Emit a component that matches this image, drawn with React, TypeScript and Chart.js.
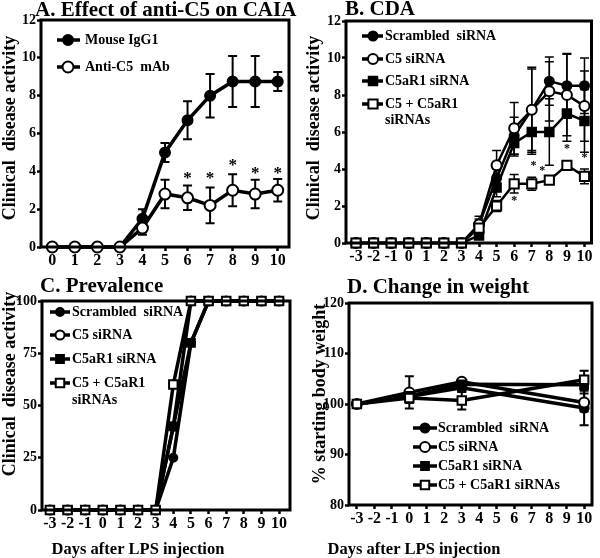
import React, { useEffect, useRef } from 'react';
import { Chart, registerables } from 'chart.js';
Chart.register(...registerables);

const SERIF = "'Liberation Serif', 'Times New Roman', Times, serif";

// ---------- Panel A ----------
const daysA = [0, 1, 2, 3, 4, 5, 6, 7, 8, 9, 10];
const ticksXA = [0, 1, 2, 3, 4, 5, 6, 7, 8, 9, 10];
const ticksYA = [0, 2, 4, 6, 8, 10, 12];
const mouseIgG1 = [0, 0, 0, 0, 1.5, 5.0, 6.7, 8.0, 8.75, 8.75, 8.75];
const mouseIgG1Err = [0, 0, 0, 0, 0.5, 0.5, 1.0, 1.15, 1.35, 1.35, 0.5];
const antiC5mAb = [0, 0, 0, 0, 1.0, 2.8, 2.6, 2.2, 3.0, 2.8, 3.0];
const antiC5mAbErr = [0, 0, 0, 0, 0.35, 0.75, 0.65, 0.95, 0.85, 0.75, 0.6];
const starXA = [6, 7, 8, 9, 10];
const starYA = [3.85, 3.85, 4.5, 4.1, 4.1];

// ---------- Panel B ----------
const daysB = [-3, -2, -1, 0, 1, 2, 3, 4, 5, 6, 7, 8, 9, 10];
const ticksXB = [-3, -2, -1, 0, 1, 2, 3, 4, 5, 6, 7, 8, 9, 10];
const ticksYB = [0, 2, 4, 6, 8, 10, 12];
const scrambledB = [0, 0, 0, 0, 0, 0, 0, 1.0, 3.5, 5.8, 7.2, 8.75, 8.5, 8.5];
const scrambledBErr = [0, 0, 0, 0, 0, 0, 0, 0.45, 0.5, 1.0, 2.2, 1.3, 1.75, 1.5];
const c5B = [0, 0, 0, 0, 0, 0, 0, 1.0, 4.2, 6.2, 7.2, 8.2, 8.0, 7.4];
const c5BErr = [0, 0, 0, 0, 0, 0, 0, 0.3, 0.8, 1.4, 2.3, 1.6, 2.2, 1.9];
const c5ar1B = [0, 0, 0, 0, 0, 0, 0, 0.4, 3.0, 5.4, 6.0, 6.0, 7.0, 6.6];
const c5ar1BErr = [0, 0, 0, 0, 0, 0, 0, 0.2, 0.5, 0.7, 1.2, 1.8, 1.5, 1.7];
const bothB = [0, 0, 0, 0, 0, 0, 0, 0.8, 2.0, 3.2, 3.2, 3.4, 4.2, 3.6];
const bothBErr = [0, 0, 0, 0, 0, 0, 0, 0.3, 0.3, 0.5, 0.35, 0.2, 0.2, 0.4];
const starXB = [6, 7.1, 7.6, 9, 10];
const starYB = [2.45, 4.3, 4.05, 5.25, 4.75];

// ---------- Panel C ----------
const daysC = [-3, -2, -1, 0, 1, 2, 3, 4, 5, 6, 7, 8, 9, 10];
const ticksXC = [-3, -2, -1, 0, 1, 2, 3, 4, 5, 6, 7, 8, 9, 10];
const ticksYC = [0, 25, 50, 75, 100];
const scrambledC = [0, 0, 0, 0, 0, 0, 0, 25, 80, 100, 100, 100, 100, 100];
const c5C = [0, 0, 0, 0, 0, 0, 0, 40, 100, 100, 100, 100, 100, 100];
const c5ar1C = [0, 0, 0, 0, 0, 0, 0, 40, 80, 100, 100, 100, 100, 100];
const bothC = [0, 0, 0, 0, 0, 0, 0, 60, 100, 100, 100, 100, 100, 100];
const zeroErrC = [0, 0, 0, 0, 0, 0, 0, 0, 0, 0, 0, 0, 0, 0];

// ---------- Panel D ----------
const daysD = [-3, 0, 3, 10];
const ticksXD = [-3, -2, -1, 0, 1, 2, 3, 4, 5, 6, 7, 8, 9, 10];
const ticksYD = [80, 90, 100, 110, 120];
const scrambledD = [100, 101.5, 103.2, 99.2];
const scrambledDErr = [0, 0.8, 0.8, 3.4];
const c5D = [100, 102.3, 104.4, 100.3];
const c5DErr = [0, 3.2, 0.5, 1.8];
const c5ar1D = [100, 101.6, 103.9, 103.8];
const c5ar1DErr = [0, 0.8, 0.6, 0.8];
const bothD = [100, 101.2, 100.7, 104.8];
const bothDErr = [0, 1.0, 1.8, 1.8];

type Mk = { style: 'circle' | 'rect'; fill: string; r: number };
type Series = { label: string[]; data: number[]; err: number[]; mk: Mk };
type Area = { left: number; top: number; right: number; bottom: number };
type PanelCfg = {
  w: number; h: number; area: Area;
  xMin: number; xMax: number; xTicks: number[];
  yMin: number; yMax: number; yTicks: number[];
  xs: number[]; series: Series[];
  lineW: number; errW: number; capHalf: number;
  title: string; titleXY: [number, number];
  yTitle: string; yTitleXY: [number, number];
  xTitle?: string; xTitleXY?: [number, number];
  legend: { x0: number; x1: number; xm: number; xt: number; rows: number[]; gap: number; font: number };
  stars?: { xs: number[]; ys: number[]; size: number };
  xTickFont: number; yTickFont: number;
};

function drawMarker(ctx: CanvasRenderingContext2D, x: number, y: number, m: Mk) {
  ctx.save();
  ctx.beginPath();
  if (m.style === 'circle') ctx.arc(x, y, m.r, 0, Math.PI * 2);
  else {
    const s = m.r * Math.SQRT1_2;
    ctx.rect(x - s, y - s, 2 * s, 2 * s);
  }
  ctx.fillStyle = m.fill;
  ctx.fill();
  ctx.lineWidth = 2;
  ctx.strokeStyle = '#000';
  ctx.stroke();
  ctx.restore();
}

function decor(cfg: PanelCfg) {
  return {
    id: 'decor',
    beforeDatasetsDraw(chart: any) {
      const ctx: CanvasRenderingContext2D = chart.ctx;
      const xs = chart.scales.x, ys = chart.scales.y;
      ctx.save();
      ctx.strokeStyle = '#000';
      ctx.lineWidth = cfg.errW;
      cfg.series.forEach((s) => {
        s.data.forEach((v, j) => {
          const e = s.err[j];
          if (!e) return;
          const px = xs.getPixelForValue(cfg.xs[j]);
          const pTop = ys.getPixelForValue(v + e);
          const pBot = ys.getPixelForValue(v - e);
          ctx.beginPath();
          ctx.moveTo(px, pTop); ctx.lineTo(px, pBot);
          ctx.moveTo(px - cfg.capHalf, pTop); ctx.lineTo(px + cfg.capHalf, pTop);
          ctx.moveTo(px - cfg.capHalf, pBot); ctx.lineTo(px + cfg.capHalf, pBot);
          ctx.stroke();
        });
      });
      ctx.restore();
    },
    afterDraw(chart: any) {
      const ctx: CanvasRenderingContext2D = chart.ctx;
      const a = chart.chartArea;
      const xs = chart.scales.x, ys = chart.scales.y;
      ctx.save();
      ctx.strokeStyle = '#000';
      ctx.lineWidth = 3;
      ctx.strokeRect(a.left, a.top, a.right - a.left, a.bottom - a.top);
      ctx.fillStyle = '#000';
      ctx.font = `bold 21px ${SERIF}`;
      ctx.textAlign = 'left';
      ctx.textBaseline = 'alphabetic';
      ctx.fillText(cfg.title, cfg.titleXY[0], cfg.titleXY[1]);
      ctx.save();
      ctx.translate(cfg.yTitleXY[0], cfg.yTitleXY[1]);
      ctx.rotate(-Math.PI / 2);
      ctx.font = `bold 18px ${SERIF}`;
      ctx.textAlign = 'center';
      ctx.textBaseline = 'middle';
      ctx.fillText(cfg.yTitle, 0, 0);
      ctx.restore();
      if (cfg.xTitle && cfg.xTitleXY) {
        ctx.font = `bold 16.5px ${SERIF}`;
        ctx.textAlign = 'center';
        ctx.textBaseline = 'alphabetic';
        ctx.fillText(cfg.xTitle, cfg.xTitleXY[0], cfg.xTitleXY[1]);
      }
      const L = cfg.legend;
      cfg.series.forEach((s, i) => {
        const y = L.rows[i];
        ctx.beginPath();
        ctx.lineWidth = 3.5;
        ctx.moveTo(L.x0, y); ctx.lineTo(L.x1, y);
        ctx.stroke();
        drawMarker(ctx, L.xm, y, s.mk);
        ctx.fillStyle = '#000';
        ctx.font = `bold ${L.font}px ${SERIF}`;
        ctx.textAlign = 'left';
        ctx.textBaseline = 'middle';
        s.label.forEach((t, k) => ctx.fillText(t, L.xt, y + k * L.gap));
      });
      if (cfg.stars) {
        const st = cfg.stars;
        ctx.font = `bold ${st.size}px ${SERIF}`;
        ctx.textAlign = 'center';
        ctx.textBaseline = 'alphabetic';
        st.xs.forEach((x, i) => {
          ctx.fillText('*', xs.getPixelForValue(x), ys.getPixelForValue(st.ys[i]) + st.size * 0.5);
        });
      }
      ctx.restore();
    },
  };
}

function buildChart(canvas: HTMLCanvasElement, cfg: PanelCfg) {
  const n = cfg.series.length;
  const a = cfg.area;
  const gridOpts = {
    display: true, drawOnChartArea: false, drawTicks: true,
    tickLength: 4, tickWidth: 2.5, tickColor: '#000', color: '#000',
  };
  return new Chart(canvas, {
    type: 'line',
    data: {
      datasets: cfg.series.map((s, i) => ({
        label: s.label.join(' '),
        data: cfg.xs.map((x, j) => ({ x, y: s.data[j] })),
        borderColor: '#000',
        borderWidth: cfg.lineW,
        backgroundColor: s.mk.fill,
        pointStyle: s.mk.style,
        pointRadius: s.mk.r,
        pointBorderWidth: 2,
        pointBorderColor: '#000',
        pointBackgroundColor: s.mk.fill,
        tension: 0,
        clip: false,
        order: n - i,
      })),
    },
    options: {
      responsive: false,
      animation: false,
      events: [],
      layout: { padding: { left: 0, top: a.top, right: cfg.w - a.right, bottom: 0 } },
      plugins: { legend: { display: false }, tooltip: { enabled: false }, title: { display: false } },
      scales: {
        x: {
          type: 'linear', min: cfg.xMin, max: cfg.xMax,
          afterFit: (s: any) => { s.height = cfg.h - a.bottom; },
          afterBuildTicks: (s: any) => { s.ticks = cfg.xTicks.map((v) => ({ value: v })); },
          ticks: {
            autoSkip: false, maxRotation: 0, minRotation: 0, padding: 0,
            color: '#000', font: { family: SERIF, size: cfg.xTickFont, weight: 'bold' },
          },
          grid: gridOpts,
          border: { display: false },
        },
        y: {
          type: 'linear', min: cfg.yMin, max: cfg.yMax,
          afterFit: (s: any) => { s.width = a.left; },
          afterBuildTicks: (s: any) => { s.ticks = cfg.yTicks.map((v) => ({ value: v })); },
          ticks: {
            autoSkip: false, padding: 1,
            color: '#000', font: { family: SERIF, size: cfg.yTickFont, weight: 'bold' },
          },
          grid: gridOpts,
          border: { display: false },
        },
      },
    } as any,
    plugins: [decor(cfg) as any],
  });
}

const blackCircle = (r: number): Mk => ({ style: 'circle', fill: '#000', r });
const whiteCircle = (r: number): Mk => ({ style: 'circle', fill: '#fff', r });
const blackSquare = (r: number): Mk => ({ style: 'rect', fill: '#000', r });
const whiteSquare = (r: number): Mk => ({ style: 'rect', fill: '#fff', r });

const panelA: PanelCfg = {
  w: 300, h: 270, area: { left: 41, top: 20, right: 289, bottom: 247 },
  xMin: -0.5, xMax: 10.5, xTicks: ticksXA, yMin: 0, yMax: 12, yTicks: ticksYA,
  xs: daysA,
  series: [
    { label: ['Mouse IgG1'], data: mouseIgG1, err: mouseIgG1Err, mk: blackCircle(5) },
    { label: ['Anti-C5  mAb'], data: antiC5mAb, err: antiC5mAbErr, mk: whiteCircle(5.5) },
  ],
  lineW: 3.5, errW: 2, capHalf: 4.5,
  title: 'A. Effect of anti-C5 on CAIA', titleXY: [35, 16],
  yTitle: 'Clinical  disease activity', yTitleXY: [10, 128],
  legend: { x0: 57, x1: 80, xm: 68, xt: 85, rows: [40, 67], gap: 16, font: 14 },
  stars: { xs: starXA, ys: starYA, size: 17 },
  xTickFont: 16, yTickFont: 14,
};

const panelB: PanelCfg = {
  w: 300, h: 270, area: { left: 46, top: 21, right: 293, bottom: 243 },
  xMin: -3.57, xMax: 10.4, xTicks: ticksXB, yMin: 0, yMax: 12, yTicks: ticksYB,
  xs: daysB,
  series: [
    { label: ['Scrambled  siRNA'], data: scrambledB, err: scrambledBErr, mk: blackCircle(4.5) },
    { label: ['C5 siRNA'], data: c5B, err: c5BErr, mk: whiteCircle(5) },
    { label: ['C5aR1 siRNA'], data: c5ar1B, err: c5ar1BErr, mk: blackSquare(6) },
    { label: ['C5 + C5aR1', 'siRNAs'], data: bothB, err: bothBErr, mk: whiteSquare(6.5) },
  ],
  lineW: 2.5, errW: 1.5, capHalf: 4.5,
  title: 'B. CDA', titleXY: [45, 15],
  yTitle: 'Clinical  disease activity', yTitleXY: [14, 128],
  legend: { x0: 62, x1: 83, xm: 73, xt: 85, rows: [36, 59, 81, 104], gap: 16, font: 14 },
  stars: { xs: starXB, ys: starYB, size: 12 },
  xTickFont: 16, yTickFont: 14,
};

const panelC: PanelCfg = {
  w: 300, h: 288, area: { left: 42, top: 31, right: 290, bottom: 240 },
  xMin: -3.45, xMax: 10.62, xTicks: ticksXC, yMin: 0, yMax: 100, yTicks: ticksYC,
  xs: daysC,
  series: [
    { label: ['Scrambled  siRNA'], data: scrambledC, err: zeroErrC, mk: blackCircle(4) },
    { label: ['C5 siRNA'], data: c5C, err: zeroErrC, mk: whiteCircle(4.5) },
    { label: ['C5aR1 siRNA'], data: c5ar1C, err: zeroErrC, mk: blackSquare(5.5) },
    { label: ['C5 + C5aR1', 'siRNAs'], data: bothC, err: zeroErrC, mk: whiteSquare(6) },
  ],
  lineW: 3.5, errW: 2, capHalf: 4,
  title: 'C. Prevalence', titleXY: [40, 22],
  yTitle: 'Clinical  disease activity', yTitleXY: [10, 114],
  xTitle: 'Days after LPS injection', xTitleXY: [138, 284],
  legend: { x0: 50, x1: 70, xm: 60, xt: 72, rows: [42, 65, 89, 113], gap: 17, font: 14 },
  xTickFont: 16, yTickFont: 14,
};

const panelD: PanelCfg = {
  w: 300, h: 288, area: { left: 49, top: 33, right: 297, bottom: 235 },
  xMin: -3.45, xMax: 10.45, xTicks: ticksXD, yMin: 80, yMax: 120, yTicks: ticksYD,
  xs: daysD,
  series: [
    { label: ['Scrambled  siRNA'], data: scrambledD, err: scrambledDErr, mk: blackCircle(4.5) },
    { label: ['C5 siRNA'], data: c5D, err: c5DErr, mk: whiteCircle(5) },
    { label: ['C5aR1 siRNA'], data: c5ar1D, err: c5ar1DErr, mk: blackSquare(5.5) },
    { label: ['C5 + C5aR1 siRNAs'], data: bothD, err: bothDErr, mk: whiteSquare(6) },
  ],
  lineW: 3.5, errW: 2, capHalf: 4.5,
  title: 'D. Change in weight', titleXY: [47, 23],
  yTitle: '% starting body weight', yTitleXY: [20, 124],
  xTitle: 'Days after LPS injection', xTitleXY: [114, 284],
  legend: { x0: 113, x1: 137, xm: 125, xt: 138, rows: [158, 177, 196, 215], gap: 16, font: 14 },
  xTickFont: 16, yTickFont: 14,
};

function Panel({ cfg, left, top }: { cfg: PanelCfg; left: number; top: number }) {
  const ref = useRef<HTMLCanvasElement | null>(null);
  useEffect(() => {
    if (!ref.current) return;
    const chart = buildChart(ref.current, cfg);
    return () => chart.destroy();
  }, [cfg]);
  return (
    <canvas
      ref={ref}
      width={cfg.w}
      height={cfg.h}
      style={{ position: 'absolute', left, top, width: cfg.w, height: cfg.h }}
    />
  );
}

export default function App() {
  return (
    <div style={{ position: 'absolute', left: 0, top: 0, width: 600, height: 558, background: '#fff', overflow: 'hidden' }}>
      <Panel cfg={panelA} left={0} top={0} />
      <Panel cfg={panelB} left={300} top={0} />
      <Panel cfg={panelC} left={0} top={270} />
      <Panel cfg={panelD} left={300} top={270} />
    </div>
  );
}
